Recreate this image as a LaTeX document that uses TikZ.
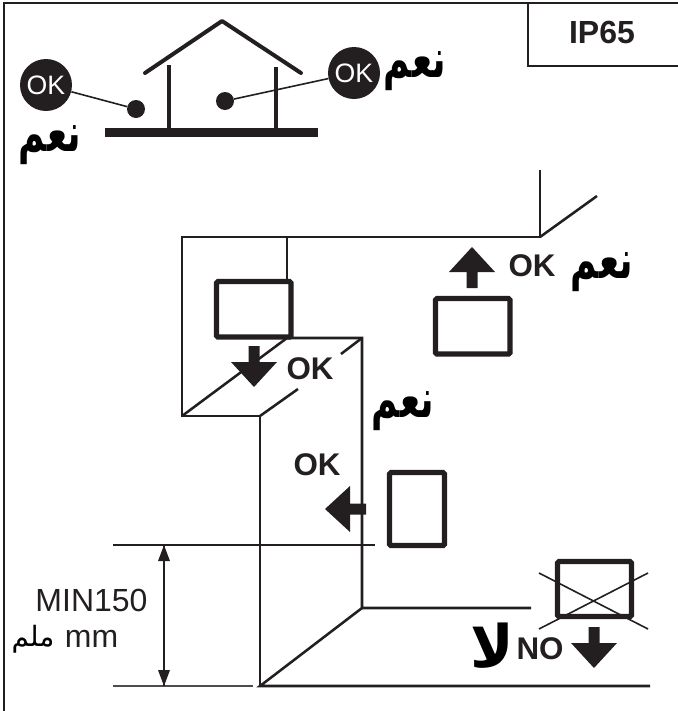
\documentclass[tikz,border=0pt]{standalone}
\usepackage{fontspec}
\setmainfont{Liberation Sans}
\newfontfamily\arabicfont[Script=Arabic]{DejaVu Sans}
\TeXXeTstate=1
\definecolor{inkcol}{HTML}{231F20}
\newcommand{\yesword}{\scalebox{1}[1.5]{\beginR نعم\endR}}
\tikzset{
    thinline/.style={draw=inkcol,line width=1.2pt},
    wall/.style={draw=inkcol,line width=1.9pt},
    boxline/.style={draw=inkcol,line width=3.8pt,rounded corners=1pt},
    okdot/.style={circle,fill=inkcol,text=white,minimum size=39pt,inner sep=0pt,font=\fontsize{20}{20}\selectfont},
    spot/.style={circle,fill=inkcol,minimum size=13.5pt,inner sep=0pt},
    oklabel/.style={text=inkcol,inner sep=0pt,font=\bfseries\fontsize{23.5}{24}\selectfont},
    yeslabel/.style={text=black,inner sep=0pt,font=\arabicfont\bfseries\fontsize{27}{27}\selectfont},
    dimlabel/.style={text=inkcol,inner sep=0pt,font=\fontsize{24}{24}\selectfont}
}
\begin{document}
\begin{tikzpicture}[x=0.75pt,y=-0.75pt]
        \useasboundingbox (0,0) rectangle (678,711);
        \draw[wall,line width=2.2pt] (4,711) -- (4,3) -- (678,3);
        \draw[wall,line width=2.2pt] (678,66) -- (528,66) -- (528,3);
        \node[oklabel,font=\bfseries\fontsize{24}{24}\selectfont] (ipmark) at (602,32) {IP65};
        \draw[inkcol,line width=3pt,line cap=round,line join=round] (145,73) -- (222,21) -- (301,73);
        \draw[inkcol,line width=3pt] (168.5,65) -- (168.5,130);
        \draw[inkcol,line width=2.6pt] (276,67) -- (276,130);
        \fill[inkcol] (105,128) rectangle (318,137);
        \node[okdot] (okleft) at (46,85) {OK};
        \node[okdot] (okright) at (354,73) {OK};
        \node[spot] (spotleft) at (136,109) {};
        \node[spot] (spotright) at (225,101) {};
        \draw[thinline] (okleft) -- (spotleft);
        \draw[thinline] (okright) -- (spotright);
        \node[yeslabel] (yesa) at (50,145) {\yesword};
        \node[yeslabel] (yesb) at (415,71) {\yesword};
        \node[yeslabel] (yesc) at (602,272) {\yesword};
        \node[yeslabel] (yesd) at (403,411) {\yesword};
        \draw[wall] (540,170) -- (540,237) -- (182,237) -- (182,416) -- (260,416) -- (260,686);
        \draw[wall] (540,237) -- (597,196);
        \draw[wall] (287,237) -- (287,282);
        \draw[wall] (182,416) -- (287,338) -- (362,338) -- (362,608) -- (531,608);
        \draw[wall] (362,338) -- (341,354);
        \draw[wall] (260,416) -- (298,389);
        \draw[wall] (362,608) -- (260,686) -- (650,686);
        \draw[boxline] (216.5,281.5) rectangle (291,337);
        \draw[boxline] (435.5,298.5) rectangle (510,354);
        \draw[boxline] (389.5,472.5) rectangle (444.5,545.5);
        \draw[boxline] (557.5,561.5) rectangle (631.5,616.5);
        \draw[thinline] (539,573) -- (648,629);
        \draw[thinline] (648,573) -- (539,629);
        \foreach \ax/\ay/\ar in {254/387/0,472/247/180,325/509/-90,594/668/0}
            \fill[inkcol,shift={(\ax,\ay)},rotate=\ar] (0,0) -- (23,-25) -- (5.5,-25) -- (5.5,-41)
                -- (-5.5,-41) -- (-5.5,-25) -- (-23,-25) -- cycle;
        \node[oklabel] (okup) at (532,266) {OK};
        \node[oklabel] (okdown) at (310,369) {OK};
        \node[oklabel] (okside) at (317,465) {OK};
        \node[oklabel] (nomark) at (540,649) {NO};
        \node[yeslabel,font=\arabicfont\bfseries\fontsize{44}{44}\selectfont] (nomarkar) at (492,646) {\beginR لا\endR};
        \draw[thinline] (113,545) -- (375,545);
        \draw[thinline,draw=inkcol!80] (113,686) -- (253,686);
        \coordinate (dimtop) at (164,545);
        \coordinate (dimbot) at (164,686);
        \draw[thinline,line width=1.1pt] (dimtop) -- (dimbot);
        \foreach \tx/\ty/\ts in {164/545/1,164/686/-1}
            \fill[inkcol] (\tx,\ty) -- ({\tx+6},{\ty+16*\ts}) -- ({\tx-6},{\ty+16*\ts}) -- cycle;
        \node[dimlabel] (minval) at (91.5,600) {MIN150};
        \node[dimlabel] (mmval) at (91.5,639) {mm};
        \node[text=black,inner sep=0pt,font=\arabicfont\fontsize{21}{21}\selectfont] (mmar) at (33,639) {\beginR ملم\endR};
    \end{tikzpicture}
\end{document}
